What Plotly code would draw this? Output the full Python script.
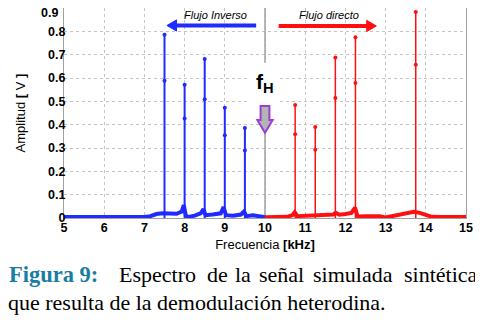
import plotly.graph_objects as go

# ---------------- data ----------------
# Stems (inverse flow, blue) : frequency [kHz], mid-sample, peak [V]
inv_freq = [7.5, 8.0, 8.5, 9.0, 9.5]
inv_peak = [0.785, 0.571, 0.681, 0.473, 0.386]
inv_mid = [0.588, 0.426, 0.509, 0.355, 0.289]

# Stems (direct flow, red)
dir_freq = [10.75, 11.25, 11.75, 12.25, 13.75]
dir_peak = [0.484, 0.390, 0.688, 0.775, 0.883]
dir_mid = [0.359, 0.292, 0.514, 0.579, 0.657]

# Noise floor (blue half, 5-10 kHz)
floor_inv_f = [5.0, 5.5, 6.0, 6.5, 7.0, 7.15, 7.3, 7.45, 7.6, 7.8, 7.93, 7.98, 8.03, 8.1,
               8.25, 8.4, 8.47, 8.52, 8.7, 8.9, 8.97, 9.03, 9.2, 9.4, 9.48, 9.53, 9.7, 9.85, 10.0]
floor_inv_a = [0.004, 0.003, 0.004, 0.003, 0.004, 0.008, 0.017, 0.020, 0.020, 0.018, 0.028, 0.055, 0.010, 0.004,
               0.010, 0.020, 0.038, 0.012, 0.015, 0.020, 0.047, 0.012, 0.010, 0.015, 0.028, 0.008, 0.012, 0.008, 0.003]

# Noise floor (red half, 10-15 kHz)
floor_dir_f = [10.0, 10.3, 10.55, 10.68, 10.74, 10.8, 11.0, 11.2, 11.3, 11.5, 11.7, 11.76, 11.85, 12.0,
               12.15, 12.24, 12.3, 12.5, 12.7, 12.85, 13.0, 13.15, 13.35, 13.55, 13.7, 13.85, 14.0,
               14.15, 14.4, 14.7, 15.0]
floor_dir_a = [0.003, 0.003, 0.005, 0.012, 0.025, 0.008, 0.010, 0.012, 0.010, 0.012, 0.015, 0.022, 0.014, 0.017,
               0.022, 0.045, 0.006, 0.008, 0.006, 0.008, 0.002, 0.007, 0.015, 0.024, 0.027, 0.022, 0.012,
               0.005, 0.004, 0.003, 0.004]

x_ticks = [5, 6, 7, 8, 9, 10, 11, 12, 13, 14, 15]
y_ticks = [0, 0.1, 0.2, 0.3, 0.4, 0.5, 0.6, 0.7, 0.8, 0.9]
y_tick_text = ["0", "0.1", "0.2", "0.3", "0.4", "0.5", "0.6", "0.7", "0.8", "0.9"]

# caption words of the (justified) first line and their centre positions (page px)
caption_words = ["Espectro", "de", "la", "señal", "simulada", "sintética"]
caption_word_px = [157, 217, 242.5, 281, 353, 441]

BLUE = "#1f2bff"
RED = "#ff1010"


def stem_xy(freqs, peaks):
    xs, ys = [], []
    for f, p in zip(freqs, peaks):
        xs += [f, f, None]
        ys += [0, p, None]
    return xs, ys


fig = go.Figure()

fig.add_trace(go.Scatter(x=floor_inv_f, y=floor_inv_a, mode="lines",
                         line=dict(color=BLUE, width=4), hoverinfo="skip"))
fig.add_trace(go.Scatter(x=floor_dir_f, y=floor_dir_a, mode="lines",
                         line=dict(color=RED, width=4), hoverinfo="skip"))

sx, sy = stem_xy(inv_freq, inv_peak)
fig.add_trace(go.Scatter(x=sx, y=sy, mode="lines", line=dict(color=BLUE, width=2)))
sx, sy = stem_xy(dir_freq, dir_peak)
fig.add_trace(go.Scatter(x=sx, y=sy, mode="lines", line=dict(color=RED, width=1.5)))

fig.add_trace(go.Scatter(x=inv_freq + inv_freq, y=inv_peak + inv_mid, mode="markers",
                         marker=dict(color=BLUE, size=4)))
fig.add_trace(go.Scatter(x=dir_freq + dir_freq, y=dir_peak + dir_mid, mode="markers",
                         marker=dict(color=RED, size=4)))

# heterodyne frequency marker line, white gap behind label, block arrow
fig.add_shape(type="line", x0=10, x1=10, y0=0, y1=0.9, xref="x", yref="y",
              line=dict(color="#a0a0a0", width=1.5), layer="between")
fig.add_shape(type="rect", x0=9.6, x1=10.35, y0=0.48, y1=0.665, xref="x", yref="y",
              fillcolor="white", line=dict(width=0), layer="between")
fig.add_shape(type="path",
              path="M 9.89,0.48 L 10.11,0.48 L 10.11,0.42 L 10.19,0.42 L 10,0.365 "
                   "L 9.81,0.42 L 9.89,0.42 Z",
              fillcolor="#b4b4b4", line=dict(color="#9b3fcf", width=2), layer="above")

# flow direction arrows
fig.add_shape(type="line", x0=9.78, x1=7.75, y0=0.825, y1=0.825,
              line=dict(color=BLUE, width=4), layer="above")
fig.add_shape(type="path", path="M 7.56,0.825 L 7.80,0.849 L 7.80,0.801 Z",
              fillcolor=BLUE, line=dict(color=BLUE, width=1), layer="above")
fig.add_shape(type="line", x0=10.34, x1=12.58, y0=0.823, y1=0.823,
              line=dict(color=RED, width=4), layer="above")
fig.add_shape(type="path", path="M 12.77,0.823 L 12.53,0.847 L 12.53,0.799 Z",
              fillcolor=RED, line=dict(color=RED, width=1), layer="above")


def px_to_paper(px):
    return (px - 64) / 402.0


annos = [
    dict(x=10.0, y=0.58, text="<b>f<sub>H</sub></b>", showarrow=False,
         font=dict(family="Liberation Sans", size=21, color="black")),
    dict(x=8.77, y=0.868, text="<i>Flujo Inverso</i>", showarrow=False,
         font=dict(family="Liberation Sans", size=11, color="black")),
    dict(x=11.6, y=0.870, text="<i>Flujo directo</i>", showarrow=False,
         font=dict(family="Liberation Sans", size=11, color="black")),
    # top tick label, nudged down inside the figure as in the original
    dict(xref="paper", yref="y", x=0, y=y_ticks[-1], xanchor="right", yanchor="middle",
         xshift=-4, yshift=-5, text=y_tick_text[-1], showarrow=False,
         font=dict(family="Liberation Sans", size=12.5, color="black", weight="bold")),
    # caption
    dict(xref="paper", yref="paper", x=px_to_paper(7), y=-0.27, xanchor="left", yanchor="middle",
         text="<b>Figura 9:</b>", showarrow=False,
         font=dict(family="Liberation Serif", size=22.5, color="#1b7ca3")),
    dict(xref="paper", yref="paper", x=px_to_paper(6), y=-0.402, xanchor="left", yanchor="middle",
         text="que resulta de la demodulación heterodina.", showarrow=False,
         font=dict(family="Liberation Serif", size=22, color="black")),
]
for w, p in zip(caption_words, caption_word_px):
    annos.append(dict(xref="paper", yref="paper", x=px_to_paper(p), y=-0.27,
                      xanchor="center", yanchor="middle", text=w, showarrow=False,
                      font=dict(family="Liberation Serif", size=22, color="black")))

fig.update_layout(
    width=475, height=312,
    margin=dict(l=56, r=17, t=0, b=102, autoexpand=False),
    paper_bgcolor="white", plot_bgcolor="white",
    showlegend=False,
    annotations=annos,
    font=dict(family="Liberation Sans", color="black"),
)

fig.update_xaxes(range=[5, 15], tickvals=x_ticks, ticks="", showgrid=True,
                 gridcolor="#c4c4c4", griddash="dot", gridwidth=1, zeroline=False,
                 showline=True, mirror=True, linecolor="#a0a0a0", linewidth=1,
                 ticklabeloverflow="allow", ticklabelstandoff=-2,
                 tickfont=dict(size=12.5, family="Liberation Sans", weight="bold"),
                 title=dict(text="Frecuencia <b>[kHz]</b>", standoff=5,
                            font=dict(size=13, family="Liberation Sans")))
fig.update_yaxes(range=[0, 0.9], tickvals=y_ticks[:-1],
                 ticktext=y_tick_text[:-1], ticks="", showgrid=True,
                 gridcolor="#c4c4c4", griddash="dot", gridwidth=1, zeroline=False,
                 showline=True, mirror=True, linecolor="#a0a0a0", linewidth=1,
                 ticklabeloverflow="allow", ticklabelstandoff=-5,
                 tickfont=dict(size=12.5, family="Liberation Sans", weight="bold"),
                 title=dict(text="Amplitud <b>[</b> V <b>]</b>", standoff=19,
                            font=dict(size=13, family="Liberation Sans")))

fig.write_html("out.html")
